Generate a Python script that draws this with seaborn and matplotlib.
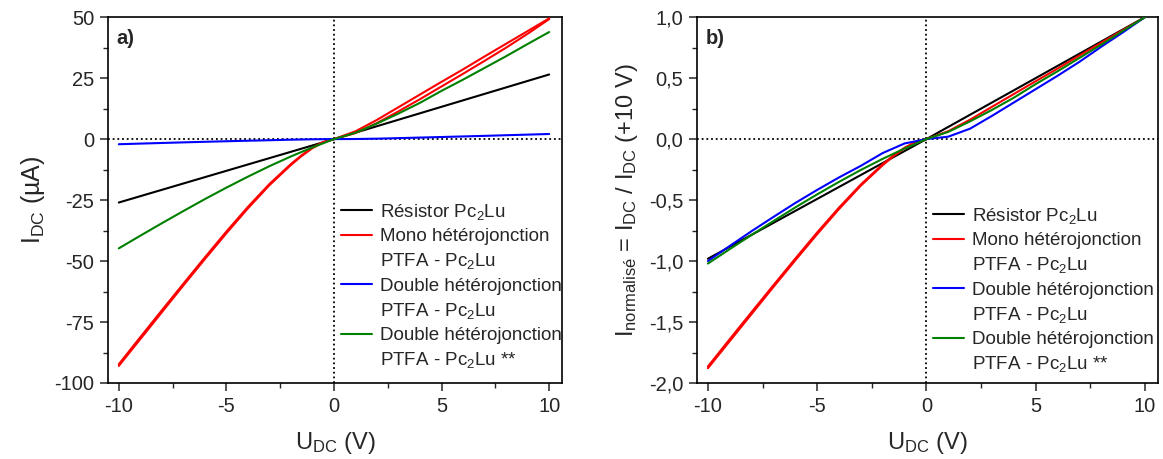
import numpy as np
import pandas as pd
import matplotlib
matplotlib.use("Agg")
import matplotlib.pyplot as plt
import seaborn as sns
from matplotlib.lines import Line2D
from matplotlib.ticker import MultipleLocator, FuncFormatter

# ---------------- data ----------------
U_neg = [-10, -9, -8, -7, -6, -5, -4, -3, -2, -1, 0]
U_pos = [0, 1, 2, 3, 4, 5, 6, 7, 8, 9, 10]
U_neg_red = [-10, -9, -8, -7, -6, -5, -4, -3, -2, -1.5, -1, -0.5, 0]

black_neg = [-26.0, -23.4, -20.8, -18.2, -15.6, -13.0, -10.4, -7.8, -5.2, -2.6, 0.0]
black_pos = [0.0, 2.65, 5.3, 7.95, 10.6, 13.25, 15.9, 18.55, 21.2, 23.85, 26.5]

red_neg_a = [-93.0, -82.0, -71.0, -60.0, -49.2, -38.6, -28.4, -18.9, -10.6, -6.9, -3.7, -1.3, 0.0]
red_neg_b = [-92.3, -81.2, -70.2, -59.3, -48.5, -37.9, -27.8, -18.4, -10.2, -6.6, -3.5, -1.2, 0.0]
red_pos_up = [0.0, 3.2, 7.9, 13.1, 18.3, 23.5, 28.6, 33.9, 39.1, 44.3, 49.5]
red_pos_down = [0.0, 2.5, 6.6, 11.4, 16.4, 21.6, 26.8, 32.1, 37.5, 43.2, 49.2]

blue_neg = [-2.1, -1.84, -1.585, -1.34, -1.1, -0.875, -0.66, -0.46, -0.24, -0.075, 0.0]
blue_pos = [0.0, 0.042, 0.18, 0.4, 0.63, 0.86, 1.09, 1.33, 1.59, 1.84, 2.1]

green_neg = [-44.8, -39.6, -34.5, -29.5, -24.6, -19.9, -15.4, -11.1, -7.1, -3.4, 0.0]
green_pos = [0.0, 2.6, 6.4, 10.5, 14.9, 19.8, 24.4, 29.2, 34.0, 39.0, 43.9]

series_names = ["Résistor Pc$_2$Lu",
                "Mono hétérojonction",
                "Double hétérojonction",
                "Double hétérojonction **"]
legend_rows = ["Résistor Pc$_2$Lu",
               "Mono hétérojonction", "PTFA - Pc$_2$Lu",
               "Double hétérojonction", "PTFA - Pc$_2$Lu",
               "Double hétérojonction", "PTFA - Pc$_2$Lu **"]
colors = ["#000000", "#FF0000", "#0000FF", "#008000"]

x_ticks = [-10, -5, 0, 5, 10]
y_ticks_a = [-100, -75, -50, -25, 0, 25, 50]
y_ticks_b = [-2.0, -1.5, -1.0, -0.5, 0.0, 0.5, 1.0]

# ---------------- build long-form tables ----------------
def branch_rows(series, branch, U, I, norm):
    return [dict(series=series, branch=branch, U=u, I=i, In=i / norm)
            for u, i in zip(U, I)]

rows = []
rows += branch_rows(series_names[0], "b0n", U_neg, black_neg, black_pos[-1])
rows += branch_rows(series_names[0], "b0p", U_pos, black_pos, black_pos[-1])
rows += branch_rows(series_names[1], "r_na", U_neg_red, red_neg_a, red_pos_up[-1])
rows += branch_rows(series_names[1], "r_nb", U_neg_red, red_neg_b, red_pos_up[-1])
rows += branch_rows(series_names[1], "r_pu", U_pos, red_pos_up, red_pos_up[-1])
rows += branch_rows(series_names[1], "r_pd", U_pos, red_pos_down, red_pos_up[-1])
rows += branch_rows(series_names[2], "bl_n", U_neg, blue_neg, blue_pos[-1])
rows += branch_rows(series_names[2], "bl_p", U_pos, blue_pos, blue_pos[-1])
rows += branch_rows(series_names[3], "g_n", U_neg, green_neg, green_pos[-1])
rows += branch_rows(series_names[3], "g_p", U_pos, green_pos, green_pos[-1])
df = pd.DataFrame(rows)
df_b = df[df["branch"] != "r_pd"]

palette = dict(zip(series_names, colors))

# ---------------- style ----------------
sns.set_theme(style="ticks")
plt.rcParams["font.family"] = ["Liberation Sans", "DejaVu Sans"]
plt.rcParams["mathtext.default"] = "regular"
plt.rcParams["axes.unicode_minus"] = False

fig = plt.figure(figsize=(11.63, 4.59), dpi=100)
ax1 = fig.add_axes([0.0929, 0.1656, 0.3904, 0.797])
ax2 = fig.add_axes([0.5993, 0.1656, 0.3964, 0.797])

for ax, data, ycol in [(ax1, df, "I"), (ax2, df_b, "In")]:
    ax.axhline(0, color="black", ls=(0, (1, 1.6)), lw=1.3, zorder=1)
    ax.axvline(0, color="black", ls=(0, (1, 1.6)), lw=1.3, zorder=1)
    sns.lineplot(data=data, x="U", y=ycol, hue="series", units="branch",
                 estimator=None, sort=False, palette=palette,
                 hue_order=series_names, linewidth=1.5, legend=False,
                 ax=ax, zorder=3)
    ax.set_xlim(-10.5, 10.6)
    ax.set_xticks(x_ticks)
    ax.xaxis.set_minor_locator(MultipleLocator(2.5))
    ax.tick_params(axis="both", which="major", direction="out", length=6,
                   width=1.1, labelsize=14.5, top=False, right=False, pad=4)
    ax.tick_params(axis="both", which="minor", direction="out", length=3.5,
                   width=1.0, top=False, right=False)
    for sp in ax.spines.values():
        sp.set_visible(True)
        sp.set_linewidth(1.2)
        sp.set_color("black")
    ax.set_xlabel("U$_{DC}$ (V)", fontsize=17, labelpad=10)

    handles = [Line2D([], [], color="none", lw=0) for _ in legend_rows]
    first_idx = [0, 1, 3, 5]
    for k, ri in enumerate(first_idx):
        handles[ri] = Line2D([], [], color=colors[k], lw=1.5)

    anchor = (0.512, 0.495) if ax is ax1 else (0.511, 0.484)
    ax.legend(handles, legend_rows, loc="upper left", bbox_to_anchor=anchor,
              frameon=False, fontsize=13.5, handlelength=1.7,
              handletextpad=0.38, labelspacing=0.33, borderpad=0,
              borderaxespad=0)

ax1.set_ylim(-100, 50)
ax1.set_yticks(y_ticks_a)
ax1.yaxis.set_minor_locator(MultipleLocator(12.5))
ax1.set_ylabel("I$_{DC}$ (µA)", fontsize=18, labelpad=5)
ax1.text(0.018, 0.943, "a)", transform=ax1.transAxes, fontsize=14.5,
         fontweight="bold", va="center", ha="left")

ax2.set_ylim(-2.0, 1.0)
ax2.set_yticks(y_ticks_b)
ax2.yaxis.set_minor_locator(MultipleLocator(0.25))
ax2.yaxis.set_major_formatter(FuncFormatter(lambda v, p: f"{v:.1f}".replace(".", ",")))
ax2.set_ylabel("I$_{normalisé}$ = I$_{DC}$ / I$_{DC}$ (+10 V)", fontsize=17,
               labelpad=6)
ax2.text(0.018, 0.943, "b)", transform=ax2.transAxes, fontsize=14.5,
         fontweight="bold", va="center", ha="left")

fig.savefig("out.png", dpi=100)
